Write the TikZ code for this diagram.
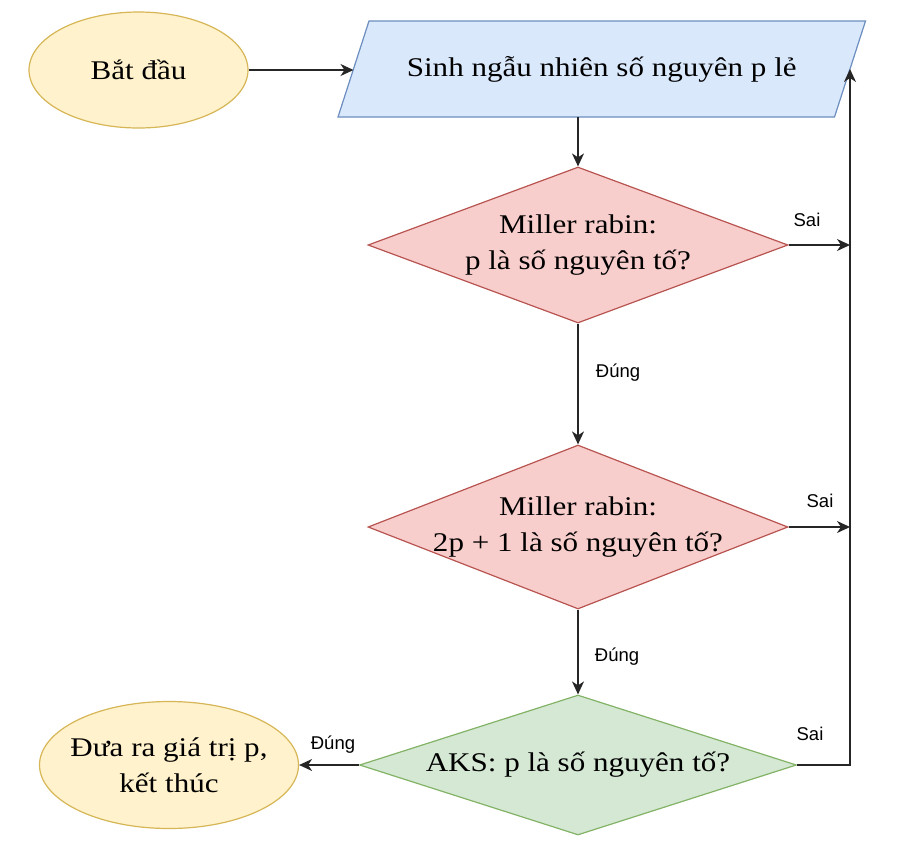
\documentclass[tikz,border=0pt]{standalone}
\usepackage{fontspec}
\setmainfont{Liberation Serif}[FakeStretch=1.15]
\newfontfamily\labfont{Liberation Sans}
\usetikzlibrary{shapes.geometric,arrows.meta}
\definecolor{yfill}{HTML}{FFF2CC}
\definecolor{ystroke}{HTML}{D6B656}
\definecolor{bfill}{HTML}{DAE8FC}
\definecolor{bstroke}{HTML}{6C8EBF}
\definecolor{rfill}{HTML}{F8CECC}
\definecolor{rstroke}{HTML}{B85450}
\definecolor{gfill}{HTML}{D5E8D4}
\definecolor{gstroke}{HTML}{82B366}
\begin{document}
\begin{tikzpicture}[x=1pt,y=-1pt,
  txt/.style={font=\fontsize{27}{36}\selectfont, align=center, inner sep=0pt},
  shapebase/.style={inner sep=0pt, line width=1.2pt},
  term/.style={shapebase, ellipse, draw=ystroke, fill=yfill},
  iobox/.style={line width=1.2pt, draw=bstroke, fill=bfill, line join=miter},
  decred/.style={shapebase, diamond, draw=rstroke, fill=rfill},
  decgreen/.style={shapebase, diamond, draw=gstroke, fill=gfill},
  arr/.style={-{Stealth[length=13pt,width=12pt,inset=4pt]}, line width=1.4pt, draw=black!85},
  lbl/.style={font=\labfont\fontsize{18.5}{22}\selectfont, inner sep=0pt, anchor=base}]
\useasboundingbox (0,0) rectangle (897,844);

% parallelogram (input/output)
\coordinate (pBL) at (338,117);
\coordinate (pBR) at (834.5,117);
\coordinate (pTR) at (865.5,21);
\coordinate (pTL) at (369,21);
\draw[iobox] (pBL) -- (pBR) -- (pTR) -- (pTL) -- cycle;
\coordinate (paraL) at (353.5,69);
\coordinate (paraR) at (850,69);
\node[txt] (para) at (601.75,69) {Sinh ngẫu nhiên số nguyên p lẻ};

\node[term, minimum width=219pt, minimum height=116pt,
  label={[txt]center:{Bắt đầu}}] (start) at (138.5,70) {};
\node[decred, minimum width=420pt, minimum height=156pt,
  label={[txt]center:{Miller rabin:\\p là số nguyên tố?}}] (d1) at (578,245) {};
\node[decred, minimum width=420pt, minimum height=164pt,
  label={[txt]center:{Miller rabin:\\2p + 1 là số nguyên tố?}}] (d2) at (578,527) {};
\node[decgreen, minimum width=437pt, minimum height=140pt,
  label={[txt]center:{AKS: p là số nguyên tố?}}] (d3) at (578,765) {};
\node[term, minimum width=259pt, minimum height=127pt,
  label={[txt]center:{Đưa ra giá trị p,\\kết thúc}}] (fin) at (169,765) {};

\draw[arr] (start.east) -- (start.east -| paraL);
\draw[arr] (pBL -| d1.north) -- (d1.north);
\draw[arr] (d1.south) -- (d2.north);
\draw[arr] (d2.south) -- (d3.north);
\draw[arr] (d3.west) -- (fin.east);
\draw[arr] (d1.east) -- (d1.east -| paraR);
\draw[arr] (d2.east) -- (d2.east -| paraR);
\draw[arr] (d3.east) -| (paraR);

\node[lbl] (s1) at (807,226) {Sai};
\node[lbl] (s2) at (820,507) {Sai};
\node[lbl] (s3) at (810,740) {Sai};
\node[lbl] (y1) at (618,377) {Đúng};
\node[lbl] (y2) at (617,661) {Đúng};
\node[lbl] (y3) at (333,749) {Đúng};
\end{tikzpicture}
\end{document}
